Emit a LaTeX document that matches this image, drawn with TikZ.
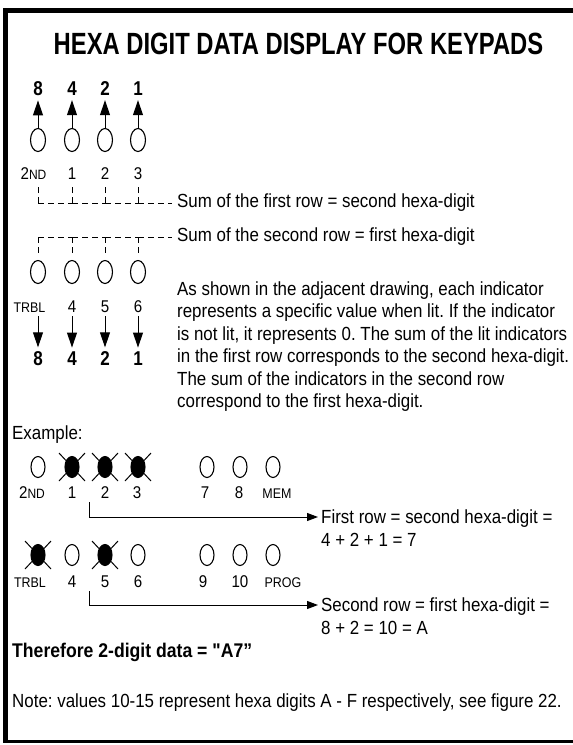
\documentclass[tikz,border=0pt]{standalone}
\usepackage{fontspec}
\usetikzlibrary{arrows.meta,shapes.geometric,calc}
\newfontfamily\bodyf[FakeStretch=0.89]{Liberation Sans}
\newfontfamily\titlef[FakeStretch=0.775]{Liberation Sans}
\newfontfamily\numf[FakeStretch=0.85]{Liberation Sans}
\newcommand\smallkey[1]{{\fontsize{13.5}{14}\selectfont #1}}
\frenchspacing
\begin{document}
\begin{tikzpicture}[x=1pt,y=-1pt,
  txt/.style={font=\bodyf\fontsize{19}{22.5}\selectfont, inner sep=0pt},
  btxt/.style={font=\bodyf\bfseries\fontsize{19.8}{22.5}\selectfont, inner sep=0pt},
  lbl/.style={font=\bodyf\fontsize{17}{17}\selectfont, inner sep=0pt, anchor=base},
  slbl/.style={font=\bodyf\fontsize{14}{14}\selectfont, inner sep=0pt, anchor=base},
  num/.style={font=\numf\bfseries\fontsize{20}{20}\selectfont, inner sep=0pt, anchor=base},
  ind/.style={draw, line width=1.1pt, ellipse, minimum width=15pt, minimum height=23pt, inner sep=0pt},
  exind/.style={ind, minimum width=14pt, minimum height=21pt},
  lit/.style={exind, fill=black},
  ray/.style={line width=1pt},
  dsh/.style={line width=1pt, dash pattern=on 6pt off 4pt},
  bigarr/.style={line width=1pt, -{Triangle[length=15pt,width=10pt]}},
  exarr/.style={line width=1pt, -{Triangle[length=11pt,width=8pt]}},
  side/.style={txt, anchor=west, inner sep=3pt, text height=13.6pt, text depth=0pt}
]
\useasboundingbox (0,0) rectangle (573,745);
% frame
\draw[line width=5pt] (5.5,742.5) -- (5.5,10.5) -- (573,10.5);
\draw[line width=2.5pt] (3,741.5) -- (573,741.5);

% title
\node[font=\titlef\bfseries\fontsize{30.7}{36}\selectfont, inner sep=0pt, anchor=base] (title) at (298.5,54) {HEXA DIGIT DATA DISPLAY FOR KEYPADS};

% first row (weights upward)
\foreach \i/\x/\v in {1/38/8,2/72/4,3/105/2,4/138/1}{
  \node[ind] (a\i) at (\x,140) {};
  \node[num] (n\i) at (\x,95) {\v};
  \draw[bigarr] (a\i.north) -- ($(n\i.south)+(0,5)$);
}
\node[lbl] (l1) at (33.5,179) {2\smallkey{ND}};
\node[lbl] (l2) at (72,179) {1};
\node[lbl] (l3) at (105,179) {2};
\node[lbl] (l4) at (138,179) {3};

\node[txt, anchor=west] (sum1) at (177,203) {Sum of the first row = second hexa-digit};
\foreach \i/\j in {1/2,2/3,3/4}
  \draw[dsh] (a\i |- sum1.west) -- ($(a\i |- l\i.south)+(0,8)$)
             (a\i |- sum1.west) -- (a\j |- sum1.west);
\draw[dsh] (a4 |- sum1.west) -- ($(a4 |- l4.south)+(0,8)$)
           (a4 |- sum1.west) -- ($(sum1.west)+(-5,0)$);

% second row (weights downward)
\node[txt, anchor=west] (sum2) at (177,237) {Sum of the second row = first hexa-digit};
\foreach \i/\x in {1/38,2/72,3/105,4/138}
  \node[ind] (b\i) at (\x,272) {};
\foreach \i/\j in {1/2,2/3,3/4}
  \draw[dsh] (b\i |- sum2.west) -- ($(b\i.north)+(0,-4)$)
             (b\i |- sum2.west) -- (b\j |- sum2.west);
\draw[dsh] (b4 |- sum2.west) -- ($(b4.north)+(0,-4)$)
           (b4 |- sum2.west) -- ($(sum2.west)+(-5,0)$);

\node[slbl] (t1) at (29.5,312) {TRBL};
\node[lbl] (t2) at (72,312) {4};
\node[lbl] (t3) at (105,312) {5};
\node[lbl] (t4) at (138,312) {6};
\foreach \i/\v in {1/8,2/4,3/2,4/1}{
  \node[num] (m\i) at (b\i |- 0,365) {\v};
  \draw[bigarr] ($(b\i |- t\i.south)+(0,4)$) -- ($(m\i.north)+(0,-3.5)$);
}

% explanation
\node[txt, anchor=north west, align=left] (para) at (177,281.5)
  {As shown in the adjacent drawing, each indicator\\
   represents a specific value when lit. If the indicator\\
   is not lit, it represents 0. The sum of the lit indicators\\
   in the first row corresponds to the second hexa-digit.\\
   The sum of the indicators in the second row\\
   correspond to the first hexa-digit.};

% example
\node[txt, anchor=base west] (ex) at (12,439) {Example:};

\foreach \i/\x in {1/38,5/207,6/240,7/273} \node[exind] (c\i) at (\x,467) {};
\foreach \i/\x in {2/72,3/105,4/138} \node[lit] (c\i) at (\x,467) {};
\foreach \i/\x in {2/72,4/138,5/207,6/240,7/273} \node[exind] (e\i) at (\x,555) {};
\foreach \i/\x in {1/38,3/105} \node[lit] (e\i) at (\x,555) {};
\foreach \c in {c2,c3,c4,e1,e3}
  \draw[ray] ($(\c)+(-13,-14)$) -- ($(\c)+(13,14)$)
             ($(\c)+(13,-14)$) -- ($(\c)+(-13,14)$);

\node[lbl] (x1) at (32,498) {2\smallkey{ND}};
\node[lbl] (x2) at (72,498) {1};
\node[lbl] (x3) at (105,498) {2};
\node[lbl] (x4) at (137,498) {3};
\node[lbl] (x5) at (205,498) {7};
\node[lbl] (x6) at (239,498) {8};
\node[slbl] (x7) at (277,498) {MEM};

\node[slbl] (y1) at (30,587) {TRBL};
\node[lbl] (y2) at (72,587) {4};
\node[lbl] (y3) at (105,587) {5};
\node[lbl] (y4) at (138,587) {6};
\node[lbl] (y5) at (203,587) {9};
\node[lbl] (y6) at (240,587) {10};
\node[slbl] (y7) at (283,587) {PROG};

\coordinate (k1) at (89,502);
\node[side] (r1) at (318,517) {First row = second hexa-digit =};
\node[txt, anchor=base west] (r1b) at (321,546) {4 + 2 + 1 = 7};
\draw[exarr] (k1) |- (r1.west);

\coordinate (k2) at (89,591);
\node[side] (r2) at (318,605) {Second row = first hexa-digit =};
\node[txt, anchor=base west] (r2b) at (321,634) {8 + 2 = 10 = A};
\draw[exarr] (k2) |- (r2.west);

\node[btxt, anchor=base west] (res) at (12,657) {Therefore 2-digit data = "A7”};
\node[txt, anchor=base west] (note) at (12,707) {Note: values 10-15 represent hexa digits A - F respectively, see figure 22.};
\end{tikzpicture}
\end{document}
